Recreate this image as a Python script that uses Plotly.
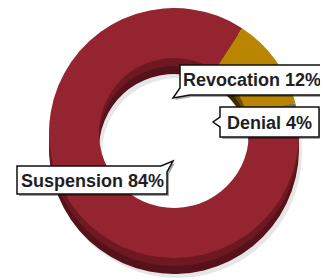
import plotly.graph_objects as go

# Data
categories = ["Revocation", "Denial", "Suspension"]
values = [12, 4, 84]
label_text = ["Revocation 12%", "Denial 4%", "Suspension 84%"]

top_colors = ["#BA8500", "#6C7582", "#932430"]
mid_colors = ["#6E4F00", "#4A5058", "#6E1822"]
wall_colors = ["#3E2C00", "#2E3238", "#55121A"]
shadow_colors = ["#E6E6E6", "#E6E6E6", "#E6E6E6"]

W, H = 328, 280
OFF = 8  # page body margin offset
SIZE = 250


def px(x, y):
    return (x - OFF) / W, 1 - (y - OFF) / H


def dom(x0, y0, size):
    x0 -= OFF
    y0 -= OFF
    return dict(x=[max(0, x0 / W), min(1, (x0 + size) / W)],
                y=[max(0, 1 - (y0 + size) / H), min(1, 1 - y0 / H)])


fig = go.Figure()
common = dict(labels=categories, values=values, sort=False, direction="clockwise",
              rotation=33, hole=0.6, textinfo="none", hoverinfo="label+percent",
              showlegend=False)
# soft shadow
fig.add_trace(go.Pie(**common, domain=dom(52, 28, SIZE),
                     marker=dict(colors=shadow_colors, line=dict(width=0))))
# extruded wall
fig.add_trace(go.Pie(**common, domain=dom(49, 24, SIZE),
                     marker=dict(colors=wall_colors, line=dict(width=0))))
fig.add_trace(go.Pie(**common, domain=dom(49, 16, SIZE),
                     marker=dict(colors=mid_colors, line=dict(width=0))))
# top face
fig.add_trace(go.Pie(**common, domain=dom(49, 8, SIZE),
                     marker=dict(colors=top_colors, line=dict(width=0))))


def path(points, dx=0, dy=0):
    s = ""
    for i, (x, y) in enumerate(points):
        X, Y = px(x + dx, y + dy)
        s += ("M" if i == 0 else "L") + f"{X:.5f},{Y:.5f} "
    return s + "Z"


callouts = [
    [(180, 65), (323, 65), (323, 95), (190, 95), (173, 98), (180, 88)],
    [(220, 107), (319, 107), (319, 137), (220, 137), (220, 127), (213, 122), (220, 117)],
    [(17, 166), (161, 166), (173, 161), (167, 172), (167, 194), (17, 194)],
]
centers = [(251.5, 80.5), (269.5, 122.5), (92, 180.5)]

shapes = []
for pts in callouts:
    shapes.append(dict(type="path", xref="paper", yref="paper", path=path(pts, 2, 2),
                       fillcolor="rgba(0,0,0,0.35)", line=dict(width=0), layer="above"))
    shapes.append(dict(type="path", xref="paper", yref="paper", path=path(pts),
                       fillcolor="white", line=dict(color="#111111", width=1.5), layer="above"))

annotations = []
for t, (cx, cy) in zip(label_text, centers):
    X, Y = px(cx, cy)
    annotations.append(dict(text=f"<b>{t}</b>", x=X, y=Y, xref="paper", yref="paper",
                            xanchor="center", yanchor="middle", showarrow=False,
                            font=dict(family="Liberation Sans, Arial, sans-serif", size=18,
                                      color="#1E1E24")))

fig.update_layout(width=W, height=H, margin=dict(l=0, r=0, t=0, b=0),
                  paper_bgcolor="white", plot_bgcolor="white",
                  shapes=shapes, annotations=annotations)

fig.write_html("out.html")
